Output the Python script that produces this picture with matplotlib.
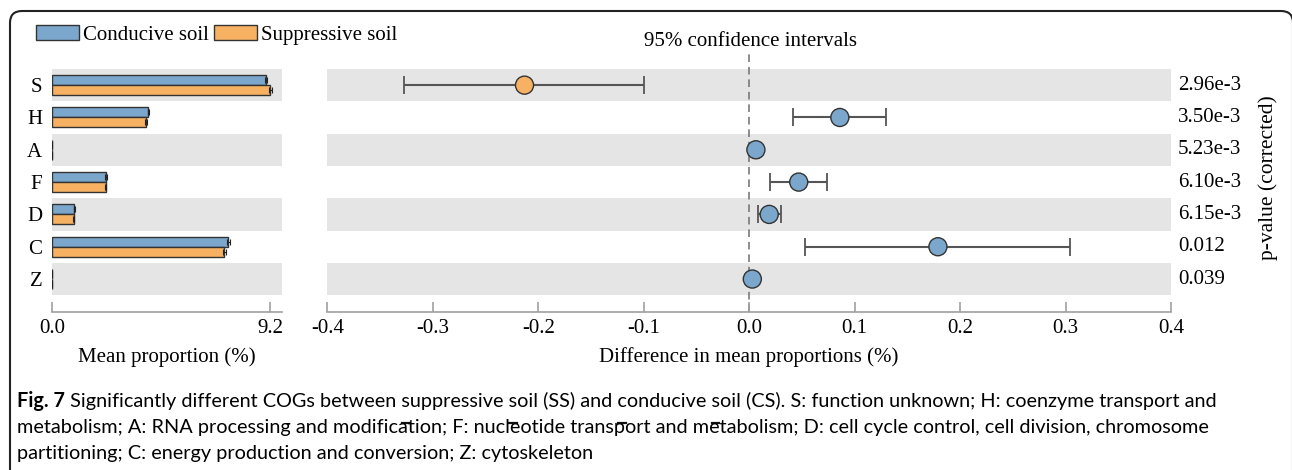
import matplotlib
matplotlib.use("Agg")
import matplotlib.pyplot as plt
import numpy as np
from matplotlib.patches import Patch, FancyBboxPatch
from matplotlib.lines import Line2D
from matplotlib.transforms import IdentityTransform, blended_transform_factory

# ---------------- data ----------------
categories = ["S", "H", "A", "F", "D", "C", "Z"]
conducive_mean = [9.02, 4.06, 0.02, 2.28, 0.93, 7.44, 0.01]
suppressive_mean = [9.21, 3.97, 0.01, 2.26, 0.92, 7.27, 0.005]
conducive_sd = [0.05, 0.03, 0.0, 0.03, 0.02, 0.06, 0.0]
suppressive_sd = [0.05, 0.03, 0.0, 0.03, 0.02, 0.06, 0.0]
diff_mean = [-0.213, 0.086, 0.0064, 0.047, 0.019, 0.179, 0.003]
ci_low = [-0.327, 0.042, 0.004, 0.020, 0.0083, 0.053, 0.001]
ci_high = [-0.0996, 0.130, 0.009, 0.074, 0.030, 0.304, 0.005]
p_values = ["2.96e-3", "3.50e-3", "5.23e-3", "6.10e-3", "6.15e-3", "0.012", "0.039"]
left_ticks = [0.0, 9.2]
right_ticks = [-0.4, -0.3, -0.2, -0.1, 0.0, 0.1, 0.2, 0.3, 0.4]
legend_labels = ["Conducive soil", "Suppressive soil"]

caption_bold = "Fig. 7"
caption_lines = [
    " Significantly different COGs between suppressive soil (SS) and conducive soil (CS). S: function unknown; H: coenzyme transport and",
    "metabolism; A: RNA processing and modification; F: nucleotide transport and metabolism; D: cell cycle control, cell division, chromosome",
    "partitioning; C: energy production and conversion; Z: cytoskeleton",
]

# ---------------- style ----------------
plt.rcParams["lines.scale_dashes"] = False
SERIF = ["Liberation Serif", "DejaVu Serif"]
SANS = ["Lato", "DejaVu Sans"]
plt.rcParams["font.family"] = SERIF
BLUE = "#7BA7CC"
ORANGE = "#F6B163"
BAND = "#E5E5E5"
EDGE = "#333333"
SPINE = "#A0A0A0"
FS = 15

W, H = 1292, 470
fig = plt.figure(figsize=(W / 100, H / 100), dpi=100)

n = len(categories)
ypos = np.arange(n)[::-1].astype(float)

axL = fig.add_axes([52 / W, (H - 312) / H, 230 / W, 243 / H])
axR = fig.add_axes([327.3 / W, (H - 312) / H, 843.7 / W, 243 / H])

for ax in (axL, axR):
    for i in range(n):
        if i % 2 == 0:
            ax.axhspan(ypos[i] - 0.5, ypos[i] + 0.5, color=BAND, lw=0, zorder=0)
    for s in ("top", "right", "left"):
        ax.spines[s].set_visible(False)
    ax.spines["bottom"].set_color(SPINE)
    ax.spines["bottom"].set_linewidth(1.2)
    ax.set_ylim(-1.02, 6.5)
    ax.tick_params(axis="x", direction="in", length=7, width=1.2, color=SPINE,
                   labelsize=FS, pad=5)

# left panel: mean proportions
bh = 0.31
axL.barh(ypos + bh / 2, conducive_mean, height=bh, color=BLUE, edgecolor=EDGE,
         lw=1, zorder=2)
axL.barh(ypos - bh / 2, suppressive_mean, height=bh, color=ORANGE, edgecolor=EDGE,
         lw=1, zorder=2)
axL.errorbar(conducive_mean, ypos + bh / 2, xerr=conducive_sd, fmt="none",
             ecolor="#222", elinewidth=0.8, capsize=2, capthick=0.8, zorder=3)
axL.errorbar(suppressive_mean, ypos - bh / 2, xerr=suppressive_sd, fmt="none",
             ecolor="#222", elinewidth=0.8, capsize=2, capthick=0.8, zorder=3)
axL.set_xlim(0, 9.7)
axL.set_xticks(left_ticks)
axL.set_xticklabels([f"{v:.1f}" for v in left_ticks])
axL.set_yticks(ypos)
axL.set_yticklabels(categories, fontsize=FS)
axL.tick_params(axis="y", length=0, pad=7)
axL.set_xlabel("Mean proportion (%)", fontsize=FS, labelpad=6.5)

# right panel: differences with CI
d = np.array(diff_mean)
lo = np.array(ci_low)
hi = np.array(ci_high)
axR.errorbar(d, ypos, xerr=[d - lo, hi - d], fmt="none", ecolor="#555555",
             elinewidth=1.5, capsize=6.5, capthick=1.3, zorder=3)
pcolors = [ORANGE if v < 0 else BLUE for v in d]
axR.scatter(d, ypos, s=13 ** 2, c=pcolors, edgecolors=EDGE, linewidths=1, zorder=4)
axR.axvline(0, ymin=0, ymax=(312 - 52) / 243, color="#7A7A7A", lw=1.2,
            dashes=(5.5, 3.5), clip_on=False, zorder=1)
axR.set_xlim(-0.4, 0.4)
axR.set_xticks(right_ticks)
axR.set_xticklabels([f"{v:.1f}" for v in right_ticks])
axR.set_yticks([])
axR.set_xlabel("Difference in mean proportions (%)", fontsize=FS, labelpad=6.5)

tr = blended_transform_factory(axR.transAxes, axR.transData)
for i in range(n):
    axR.text(1.0083, ypos[i], p_values[i], transform=tr, ha="left", va="center",
             fontsize=FS)

fig.text(1268 / W, 1 - 178 / H, "p-value (corrected)", rotation=90, ha="center",
         va="center", fontsize=FS + 0.5)
fig.text(750 / W, 1 - 41 / H, "95% confidence intervals", ha="center",
         va="center", fontsize=FS)

handles = [Patch(facecolor=BLUE, edgecolor=EDGE, lw=1),
           Patch(facecolor=ORANGE, edgecolor=EDGE, lw=1)]
fig.legend(handles, legend_labels, loc="center left",
           bbox_to_anchor=(36 / W, 1 - 35 / H), ncol=2, frameon=False,
           fontsize=FS, handlelength=2.05, handleheight=0.7, handletextpad=0.2,
           columnspacing=0.25, borderpad=0, borderaxespad=0)

# ---------------- caption ----------------
renderer = fig.canvas.get_renderer()


def twidth(s, **kw):
    t = fig.text(0, 0, s, **kw)
    w = t.get_window_extent(renderer).width
    t.remove()
    return w


base = 13.0
w2 = twidth(caption_lines[1], family=SANS, fontsize=base)
cfs = base * 1189 / w2
x0 = 17
baselines = [407, 433, 459]
fig.text(x0 / W, 1 - baselines[0] / H, caption_bold, family=SANS,
         fontsize=cfs, weight="bold", ha="left", va="baseline")
wb = twidth(caption_bold, family=SANS, fontsize=cfs, weight="bold")
x1 = x0 + wb
fig.text(x1 / W, 1 - baselines[0] / H, caption_lines[0], family=SANS,
         fontsize=cfs, ha="left", va="baseline")
for k in (1, 2):
    fig.text(x0 / W, 1 - baselines[k] / H, caption_lines[k], family=SANS,
             fontsize=cfs, ha="left", va="baseline")

# underline marks under s(uppressive) s(oil) c(onducive) s(oil)
line0 = caption_lines[0]
idx = []
p = line0.find("suppressive soil")
idx += [p, p + len("suppressive ")]
q = line0.find("conducive soil")
idx += [q, q + len("conducive ")]
wx = twidth("x", family=SANS, fontsize=cfs)
for i in idx:
    right = twidth("x" + line0[: i + 1], family=SANS, fontsize=cfs) - wx
    cw = twidth(line0[i], family=SANS, fontsize=cfs)
    xa = x1 + right - cw
    yy = H - (baselines[0] + 16)
    fig.add_artist(Line2D([xa + 0.5, xa + cw - 0.5], [yy, yy], color="#111",
                          lw=1.6, transform=IdentityTransform()))

# ---------------- frame ----------------
frame = FancyBboxPatch((10, -30), 1283, H - 11 + 30, boxstyle="round,pad=0,rounding_size=12",
                       transform=IdentityTransform(), fill=False, lw=1.5, ec="#222")
fig.add_artist(frame)

fig.savefig("out.png", dpi=100)
